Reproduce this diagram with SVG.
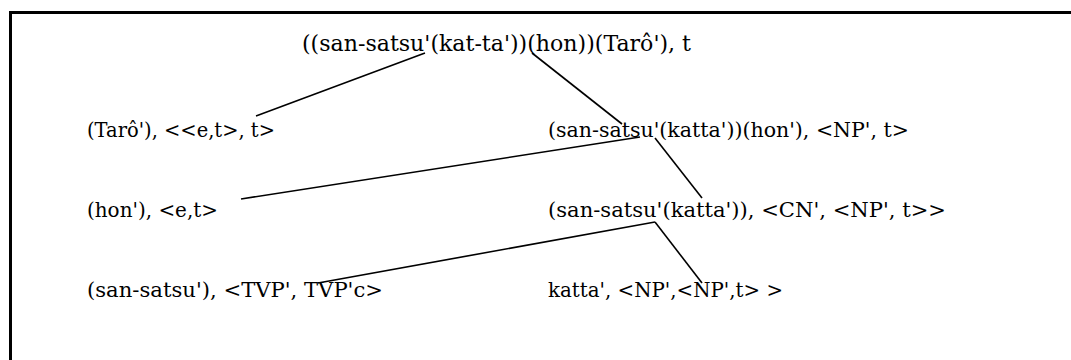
<svg xmlns="http://www.w3.org/2000/svg" width="1071" height="360" viewBox="0 0 1071 360">
<style>
.t{font-family:"DejaVu Serif","Liberation Serif",serif;font-size:19.5px;fill:#000}
.big{font-size:23px}
.c line{stroke:#000;stroke-width:1.6}
.f{stroke:#000;stroke-width:3;fill:none}
</style>
<rect width="1071" height="360" fill="#fff"/>
<path class="f" d="M10.5,360 V12.5 H1071"/>
<g id="n0"><text class="t big" x="302" y="51" textLength="389" lengthAdjust="spacingAndGlyphs">((san-satsu'(kat-ta'))(hon))(Tarô'), t</text></g>
<g id="n1"><text class="t" x="87" y="137" textLength="188" lengthAdjust="spacingAndGlyphs">(Tarô'), &lt;&lt;e,t&gt;, t&gt;</text></g>
<g id="n2"><text class="t" x="548" y="137" textLength="361" lengthAdjust="spacingAndGlyphs">(san-satsu'(katta'))(hon'), &lt;NP', t&gt;</text></g>
<g id="n3"><text class="t" x="87" y="217" textLength="131" lengthAdjust="spacingAndGlyphs">(hon'), &lt;e,t&gt;</text></g>
<g id="n4"><text class="t" x="548" y="217" textLength="398" lengthAdjust="spacingAndGlyphs">(san-satsu'(katta')), &lt;CN', &lt;NP', t&gt;&gt;</text></g>
<g id="n5"><text class="t" x="87" y="297" textLength="296" lengthAdjust="spacingAndGlyphs">(san-satsu'), &lt;TVP', TVP'c&gt;</text></g>
<g id="n6"><text class="t" x="548" y="297" textLength="235" lengthAdjust="spacingAndGlyphs">katta', &lt;NP',&lt;NP',t&gt; &gt;</text></g>
<g id="connectors" class="c">
<line x1="425" y1="53" x2="256" y2="116"/>
<line x1="532" y1="53" x2="622" y2="124"/>
<line x1="640" y1="137" x2="241" y2="199"/>
<line x1="655" y1="138" x2="702" y2="198"/>
<line x1="655" y1="222" x2="318" y2="283"/>
<line x1="655" y1="222" x2="702" y2="283"/>
</g>
</svg>
